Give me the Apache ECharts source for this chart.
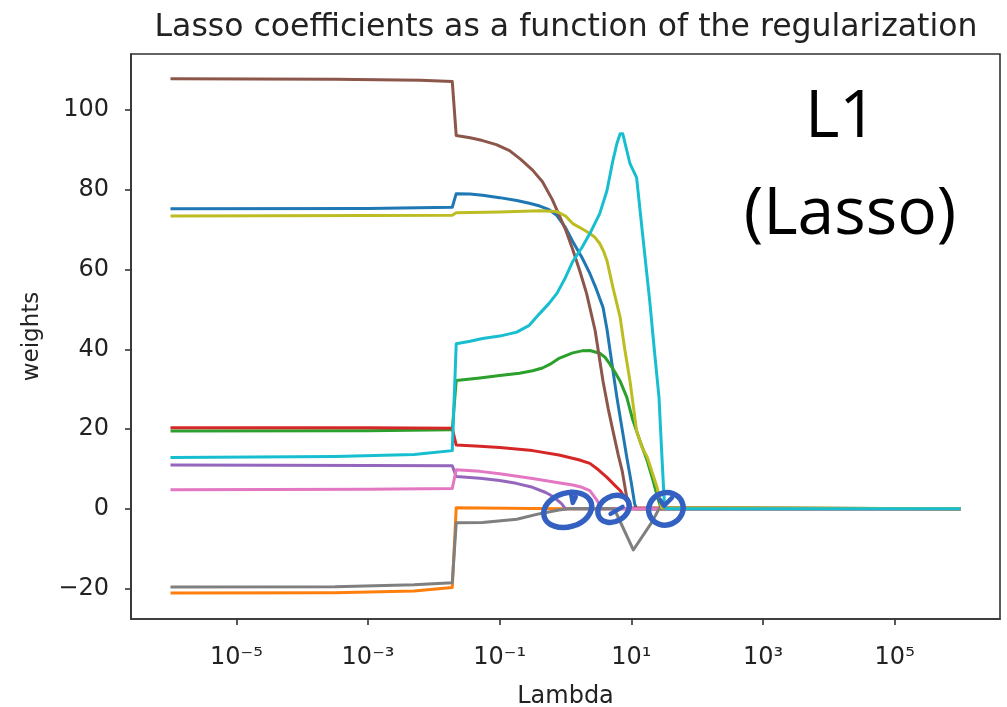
<!DOCTYPE html>
<html>
<head>
<meta charset="utf-8">
<script src="https://cdn.jsdelivr.net/npm/echarts@6/dist/echarts.min.js"></script>
<style>
html,body{margin:0;padding:0;background:#fff;}
#chart{width:1007px;height:707px;}
</style>
</head>
<body>
<div id="chart"></div>
<script>
// x = log10(lambda), y = weight
const xTickValues = [-5, -3, -1, 1, 3, 5];
const xTickLabels = ['10\u207B\u2075', '10\u207B\u00B3', '10\u207B\u00B9', '10\u00B9', '10\u00B3', '10\u2075'];
const yTickValues = [-20, 0, 20, 40, 60, 80, 100];

const coefBlue = [[-6,75.2],[-3,75.3],[-1.72,75.6],[-1.66,79],[-1.45,78.9],[-1.26,78.6],[-1.0,78],[-0.74,77.3],[-0.55,76.6],[-0.39,75.9],[-0.25,75],[-0.13,73.5],[0.0,70.5],[0.11,67],[0.25,63],[0.37,59],[0.47,55],[0.57,50.5],[0.63,45],[0.70,37],[0.78,28],[0.86,20],[0.93,13],[1.0,6.5],[1.05,1.3],[1.08,0],[6,0]];
const coefOrange = [[-6,-21.1],[-3.5,-21.0],[-2.3,-20.6],[-1.72,-19.7],[-1.66,0.3],[-0.5,0.1],[0,0],[6,0]];
const coefGreen = [[-6,19.5],[-3,19.6],[-1.72,19.8],[-1.66,32.2],[-1.3,32.8],[-1.0,33.4],[-0.7,34],[-0.5,34.6],[-0.35,35.3],[-0.24,36.2],[-0.09,37.8],[0.11,39.1],[0.25,39.6],[0.37,39.7],[0.52,39],[0.6,38],[0.67,36.4],[0.75,34.3],[0.83,32],[0.93,28],[1.02,22.4],[1.13,17.1],[1.24,12.1],[1.33,7.1],[1.40,2.8],[1.45,0.3],[1.47,0],[6,0]];
const coefRed = [[-6,20.3],[-3,20.3],[-1.72,20.2],[-1.66,16],[-1.3,15.7],[-1.0,15.4],[-0.5,14.6],[-0.1,13.5],[0.2,12.3],[0.37,11.4],[0.5,9.8],[0.63,7.9],[0.75,5.9],[0.83,4.6],[0.93,2.1],[0.98,0.3],[1.0,0],[6,0]];
const coefPurple = [[-6,11],[-3,10.9],[-1.72,10.8],[-1.66,8.1],[-1.3,7.7],[-1.0,7.1],[-0.75,6.4],[-0.5,5.4],[-0.3,4.1],[-0.19,3.1],[-0.06,1.3],[0.0,0],[6,0]];
const coefBrown = [[-6,107.8],[-3.5,107.7],[-2.2,107.4],[-1.72,107.1],[-1.66,93.6],[-1.45,93],[-1.26,92.3],[-1.05,91.3],[-0.85,89.8],[-0.68,87.6],[-0.5,84.9],[-0.35,82],[-0.2,77.5],[-0.08,73],[0.0,70],[0.11,65],[0.22,59.5],[0.32,54],[0.45,44.7],[0.57,32],[0.65,25],[0.72,19.6],[0.80,13.6],[0.86,9.6],[0.95,1],[0.98,0],[6,0]];
const coefPink = [[-6,4.8],[-3,4.9],[-1.72,5.1],[-1.66,9.8],[-1.3,9.4],[-1.0,8.8],[-0.5,7.6],[-0.13,6.6],[0.11,6.0],[0.25,5.4],[0.37,4.6],[0.48,2.1],[0.55,0],[6,0]];
const coefGray = [[-6,-19.6],[-3.5,-19.5],[-2.3,-19.0],[-1.72,-18.5],[-1.66,-3.5],[-1.26,-3.4],[-0.74,-2.6],[-0.39,-1.2],[-0.1,-0.3],[0.05,0],[0.74,0],[0.80,-2.1],[1.03,-10.3],[1.31,-3.4],[1.42,0],[6,0]];
const coefOlive = [[-6,73.4],[-3,73.5],[-1.72,73.6],[-1.66,74.2],[-1.0,74.4],[-0.39,74.7],[-0.13,74.5],[0.0,73.4],[0.11,71.5],[0.25,70.2],[0.37,69],[0.45,68],[0.52,66.5],[0.58,64.5],[0.63,62.2],[0.72,55.5],[0.83,48],[0.90,40],[0.98,32],[1.08,19.6],[1.16,15.5],[1.24,13],[1.32,9],[1.39,5.4],[1.46,0.3],[1.48,0],[6,0]];
const coefCyan = [[-6,12.9],[-3.5,13.1],[-2.3,13.6],[-1.72,14.6],[-1.66,41.4],[-1.45,42],[-1.26,42.7],[-1.0,43.3],[-0.74,44.3],[-0.55,46],[-0.39,49],[-0.25,51.5],[-0.13,54],[0.0,58],[0.11,62],[0.25,65.5],[0.37,69],[0.52,74],[0.63,79.8],[0.72,87.3],[0.78,91.5],[0.83,94],[0.87,94],[0.98,86.5],[1.08,83],[1.17,69],[1.28,52],[1.35,39.7],[1.42,28],[1.47,11.4],[1.50,2],[1.53,0],[6,0]];

const seriesList = [
  ['#1f77b4', coefBlue], ['#ff7f0e', coefOrange], ['#2ca02c', coefGreen], ['#d62728', coefRed],
  ['#9467bd', coefPurple], ['#8c564b', coefBrown], ['#e377c2', coefPink], ['#7f7f7f', coefGray],
  ['#bcbd22', coefOlive], ['#17becf', coefCyan]
];

// annotation circle anchors (data coords)
const circleAnchors = [[0.034, 0], [0.73, 0], [1.525, 0]];

const chart = echarts.init(document.getElementById('chart'), null, {renderer: 'canvas'});
const font = 'DejaVu Sans';
const option = {
  animation: false,
  backgroundColor: '#fff',
  title: {
    text: 'Lasso coefficients as a function of the regularization',
    left: 561, top: 7, textAlign: 'center',
    textStyle: {fontFamily: font, fontSize: 31.5, fontWeight: 'normal', color: '#222'}
  },
  grid: {left: 131, right: 7, top: 54, bottom: 88, outerBoundsMode: 'none', containLabel: false,
    show: true, borderColor: '#333', borderWidth: 1.6, backgroundColor: 'transparent'},
  xAxis: {
    type: 'value', min: -6.6, max: 6.6,
    name: 'Lambda', nameLocation: 'middle', nameGap: 66,
    nameTextStyle: {fontFamily: font, fontSize: 24, color: '#222'},
    axisLine: {show: true, onZero: false, lineStyle: {color: '#333', width: 1.6}},
    axisTick: {show: true, length: 6, lineStyle: {color: '#333', width: 1.6}, customValues: xTickValues},
    axisLabel: {
      fontFamily: font, fontSize: 24, color: '#222', margin: 27,
      customValues: xTickValues,
      formatter: function (v) { const i = xTickValues.indexOf(Math.round(v)); return i >= 0 ? xTickLabels[i] : ''; }
    },
    splitLine: {show: false}
  },
  yAxis: {
    type: 'value', min: -27.6, max: 114,
    name: 'weights', nameLocation: 'middle', nameGap: 87,
    nameTextStyle: {fontFamily: font, fontSize: 23, color: '#222'},
    axisLine: {show: true, onZero: false, lineStyle: {color: '#333', width: 1.6}},
    axisTick: {show: true, length: 6, lineStyle: {color: '#333', width: 1.6}, customValues: yTickValues},
    axisLabel: {fontFamily: font, fontSize: 24, color: '#222', margin: 22, customValues: yTickValues,
      formatter: function (v) { return v < 0 ? '\u2212' + Math.abs(v) : String(v); }},
    splitLine: {show: false}
  },
  series: seriesList.map(function (s) {
    return {type: 'line', data: s[1], showSymbol: false, symbol: 'none', clip: true,
      lineStyle: {color: s[0], width: 3, join: 'round'}, itemStyle: {color: s[0]}, z: 2};
  })
};
chart.setOption(option);

const px = circleAnchors.map(function (a) { return chart.convertToPixel({gridIndex: 0}, a); });
const circleStyle = {fill: 'none', stroke: '#3461c1', lineWidth: 5.5};
const hookStyle = {fill: 'none', stroke: '#3461c1', lineWidth: 4.5, lineCap: 'round', lineJoin: 'round'};
chart.setOption({
  graphic: [
    {type: 'text', style: {text: 'L1', fontFamily: 'Open Sans', fontSize: 66, fill: '#000', textAlign: 'center', textVerticalAlign: 'middle', x: 841, y: 118}, z: 10},
    {type: 'text', style: {text: '(Lasso)', fontFamily: 'Open Sans', fontSize: 66, fill: '#000', textAlign: 'center', textVerticalAlign: 'middle', x: 850, y: 215}, z: 10},
    {type: 'ellipse', x: px[0][0], y: px[0][1] + 1, rotation: 0.28, shape: {cx: 0, cy: 0, rx: 24.5, ry: 17}, style: circleStyle, z: 20},
    {type: 'polyline', x: px[0][0], y: px[0][1], shape: {points: [[3, -17], [5, -6], [8, -12]]}, style: hookStyle, z: 20},
    {type: 'ellipse', x: px[1][0], y: px[1][1], rotation: 0.5, shape: {cx: 0, cy: 0, rx: 16.5, ry: 12.5}, style: circleStyle, z: 20},
    {type: 'polyline', x: px[1][0], y: px[1][1], shape: {points: [[-3, 5], [9, -2]]}, style: hookStyle, z: 20},
    {type: 'ellipse', x: px[2][0], y: px[2][1], rotation: 0.4, shape: {cx: 0, cy: 0, rx: 17.5, ry: 16}, style: circleStyle, z: 20},
    {type: 'polyline', x: px[2][0], y: px[2][1], shape: {points: [[-6, -9], [-2, -3], [6, -11]]}, style: hookStyle, z: 20}
  ]
});
</script>
</body>
</html>
